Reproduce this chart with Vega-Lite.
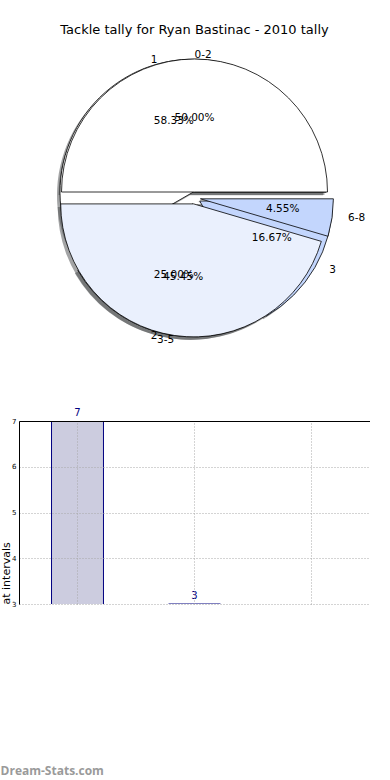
{
  "$schema": "https://vega.github.io/schema/vega-lite/v6.json",
  "padding": 0,
  "bounds": "flush",
  "spacing": 25,
  "config": {
    "font": "DejaVu Sans",
    "view": {"stroke": null},
    "title": {"font": "DejaVu Sans", "fontWeight": "normal", "color": "#000000"}
  },
  "datasets": {
    "p1": [
      {"label": "1", "n": 7, "pct": "58.33%"},
      {"label": "2", "n": 3, "pct": "25.00%"},
      {"label": "3", "n": 2, "pct": "16.67%"}
    ],
    "p2": [
      {"label": "0-2", "n": 11, "pct": "50.00%"},
      {"label": "3-5", "n": 10, "pct": "45.45%"},
      {"label": "6-8", "n": 1, "pct": "4.55%"}
    ],
    "bars": [
      {"cat": "1", "n": 7},
      {"cat": "2", "n": 3},
      {"cat": "3", "n": 2}
    ]
  },
  "vconcat": [
    {
      "width": 351,
      "height": 396,
      "title": {"text": "Tackle tally for Ryan Bastinac - 2010 tally", "fontSize": 13, "offset": -37, "anchor": "middle", "frame": "group"},
      "encoding": {
        "theta": {"field": "n", "type": "quantitative", "stack": "normalize", "scale": {"range": [1.5707963, -4.712389]}},
        "detail": {"field": "label", "type": "nominal"},
        "order": {"field": "n", "type": "quantitative", "sort": "descending"}
      },
      "layer": [
        {"data": {"name": "p1"}, "mark": {"type": "arc", "radius": 133, "fill": "#474a4c", "xOffset": -4.5, "yOffset": -2.8},
         "encoding": {"opacity": {"condition": {"test": "datum.label === '1'", "value": 0.5}, "value": 0}}},
        {"data": {"name": "p1"}, "mark": {"type": "arc", "radius": 133, "fill": "#474a4c", "xOffset": -4.5, "yOffset": 8.8},
         "encoding": {"opacity": {"condition": {"test": "datum.label === '2'", "value": 0.5}, "value": 0}}},
        {"data": {"name": "p1"}, "mark": {"type": "arc", "radius": 133, "fill": "#474a4c", "xOffset": 2.2, "yOffset": 6},
         "encoding": {"opacity": {"condition": {"test": "datum.label === '3'", "value": 0.5}, "value": 0}}},
        {"data": {"name": "p2"}, "mark": {"type": "arc", "radius": 133, "fill": "#474a4c", "xOffset": -3, "yOffset": -3},
         "encoding": {"opacity": {"condition": {"test": "datum.label === '0-2'", "value": 0.5}, "value": 0}}},
        {"data": {"name": "p2"}, "mark": {"type": "arc", "radius": 133, "fill": "#474a4c", "xOffset": -3.8, "yOffset": 8.9},
         "encoding": {"opacity": {"condition": {"test": "datum.label === '3-5'", "value": 0.5}, "value": 0}}},
        {"data": {"name": "p2"}, "mark": {"type": "arc", "radius": 133, "fill": "#474a4c", "xOffset": 2.9, "yOffset": 3.8},
         "encoding": {"opacity": {"condition": {"test": "datum.label === '6-8'", "value": 0.5}, "value": 0}}},

        {"data": {"name": "p1"}, "mark": {"type": "arc", "radius": 133, "fill": "#ffffff", "stroke": "#000000", "strokeWidth": 0.8, "xOffset": -1.5, "yOffset": -5.8},
         "encoding": {"opacity": {"condition": {"test": "datum.label === '1'", "value": 1}, "value": 0}}},
        {"data": {"name": "p1"}, "mark": {"type": "arc", "radius": 133, "fill": "#eaf0fd", "stroke": "#000000", "strokeWidth": 0.8, "xOffset": -1.5, "yOffset": 5.8},
         "encoding": {"opacity": {"condition": {"test": "datum.label === '2'", "value": 1}, "value": 0}}},
        {"data": {"name": "p1"}, "mark": {"type": "arc", "radius": 133, "fill": "#c3d6fd", "stroke": "#000000", "strokeWidth": 0.8, "xOffset": 5.2, "yOffset": 3},
         "encoding": {"opacity": {"condition": {"test": "datum.label === '3'", "value": 1}, "value": 0}}},
        {"data": {"name": "p2"}, "mark": {"type": "arc", "radius": 133, "fill": "#ffffff", "stroke": "#000000", "strokeWidth": 0.8, "xOffset": 0, "yOffset": -6},
         "encoding": {"opacity": {"condition": {"test": "datum.label === '0-2'", "value": 1}, "value": 0}}},
        {"data": {"name": "p2"}, "mark": {"type": "arc", "radius": 133, "fill": "#eaf0fd", "stroke": "#000000", "strokeWidth": 0.8, "xOffset": -0.8, "yOffset": 5.9},
         "encoding": {"opacity": {"condition": {"test": "datum.label === '3-5'", "value": 1}, "value": 0}}},
        {"data": {"name": "p2"}, "mark": {"type": "arc", "radius": 133, "fill": "#c3d6fd", "stroke": "#000000", "strokeWidth": 0.8, "xOffset": 5.9, "yOffset": 0.8},
         "encoding": {"opacity": {"condition": {"test": "datum.label === '6-8'", "value": 1}, "value": 0}}},

        {"data": {"name": "p1"}, "mark": {"type": "text", "radius": 80, "fontSize": 10.5, "color": "#000000", "baseline": "middle"},
         "encoding": {"text": {"condition": {"test": "datum.label !== '3'", "field": "pct"}, "value": ""}}},
        {"data": {"name": "p1"}, "mark": {"type": "text", "radius": 80, "fontSize": 10.5, "color": "#000000", "baseline": "middle", "dx": 8},
         "encoding": {"text": {"condition": {"test": "datum.label === '3'", "field": "pct"}, "value": ""}}},
        {"data": {"name": "p2"}, "mark": {"type": "text", "radius": 80, "fontSize": 10.5, "color": "#000000", "baseline": "middle"},
         "encoding": {"text": {"condition": {"test": "datum.label !== '6-8'", "field": "pct"}, "value": ""}}},
        {"data": {"name": "p2"}, "mark": {"type": "text", "radius": 80, "fontSize": 10.5, "color": "#000000", "baseline": "middle", "dx": 9},
         "encoding": {"text": {"condition": {"test": "datum.label === '6-8'", "field": "pct"}, "value": ""}}},

        {"data": {"name": "p1"}, "mark": {"type": "text", "radius": 143, "fontSize": 10.5, "color": "#000000", "baseline": "middle", "align": "right"},
         "encoding": {"text": {"condition": {"test": "datum.label !== '3'", "field": "label"}, "value": ""}}},
        {"data": {"name": "p1"}, "mark": {"type": "text", "radius": 143, "fontSize": 10.5, "color": "#000000", "baseline": "middle", "align": "left", "dx": 11},
         "encoding": {"text": {"condition": {"test": "datum.label === '3'", "field": "label"}, "value": ""}}},
        {"data": {"name": "p2"}, "mark": {"type": "text", "radius": 143, "fontSize": 10.5, "color": "#000000", "baseline": "middle", "align": "right"},
         "encoding": {"text": {"condition": {"test": "datum.label === '3-5'", "field": "label"}, "value": ""}}},
        {"data": {"name": "p2"}, "mark": {"type": "text", "radius": 143, "fontSize": 10.5, "color": "#000000", "baseline": "middle", "align": "left"},
         "encoding": {"text": {"condition": {"test": "datum.label === '0-2'", "field": "label"}, "value": ""}}},
        {"data": {"name": "p2"}, "mark": {"type": "text", "radius": 143, "fontSize": 10.5, "color": "#000000", "baseline": "middle", "align": "left", "dx": 12},
         "encoding": {"text": {"condition": {"test": "datum.label === '6-8'", "field": "label"}, "value": ""}}}
      ]
    },
    {
      "width": 351,
      "height": 183,
      "data": {"name": "bars"},
      "title": {"text": "Dream-Stats.com", "orient": "bottom", "anchor": "start", "frame": "bounds", "offset": 159, "fontSize": 12, "fontWeight": "bold", "color": "#9a9a9a", "font": "Open Sans"},
      "encoding": {
        "x": {"field": "cat", "type": "nominal", "scale": {"paddingInner": 0.556, "paddingOuter": 0.278},
              "axis": {"orient": "top", "title": null, "labels": false, "ticks": false, "domain": true, "domainColor": "#000000", "domainWidth": 1,
                       "grid": true, "gridDash": [1, 2], "gridColor": "#a8a8a8", "gridWidth": 1, "zindex": 1}}
      },
      "layer": [
        {"mark": {"type": "bar", "clip": true, "fill": "#ccccdf", "stroke": "#000080", "strokeWidth": 1},
         "encoding": {
           "y": {"field": "n", "type": "quantitative", "scale": {"domain": [3, 7], "nice": false, "zero": false},
                 "axis": {"orient": "left", "values": [3, 4, 5, 6, 7], "title": "at intervals", "titleAlign": "left", "titleY": 183,
                          "titleFontSize": 11, "titleFontWeight": "normal", "titleColor": "#000000", "titlePadding": 0,
                          "labelFontSize": 7, "labelColor": "#000000", "labelPadding": 3, "tickSize": 0,
                          "domain": true, "domainColor": "#000000", "domainWidth": 1,
                          "grid": true, "gridDash": [1, 2], "gridColor": "#a8a8a8", "gridWidth": 1, "zindex": 1}}
         }},
        {"transform": [{"filter": "datum.n >= 3"}],
         "mark": {"type": "text", "dy": -8, "color": "#000080", "fontSize": 10},
         "encoding": {
           "y": {"field": "n", "type": "quantitative",
                 "axis": {"orient": "right", "title": null, "labels": false, "ticks": false, "grid": false, "domain": true, "domainColor": "#000000", "domainWidth": 1}},
           "text": {"field": "n", "type": "quantitative"}
         }}
      ],
      "resolve": {"axis": {"y": "independent"}}
    }
  ]
}
